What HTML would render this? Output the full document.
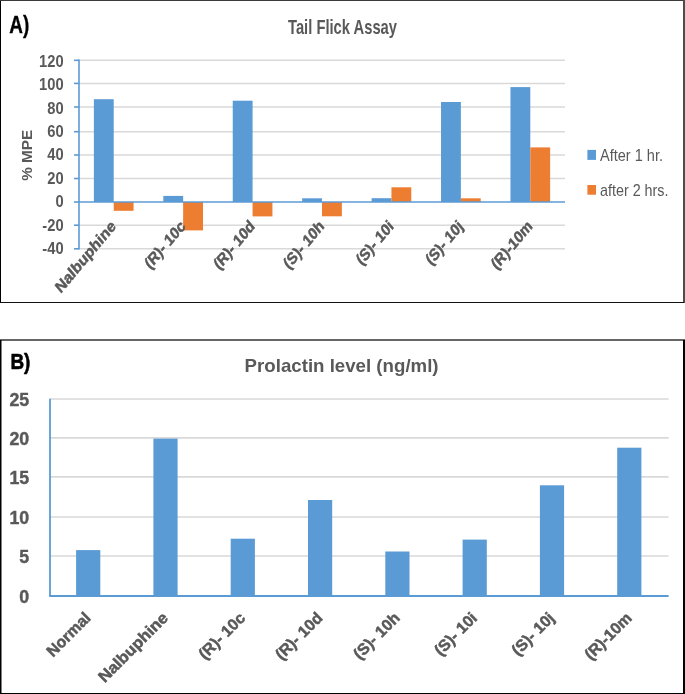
<!DOCTYPE html>
<html><head><meta charset="utf-8"><style>
html,body{margin:0;padding:0;background:#fff;}
svg{display:block;font-family:"Liberation Sans", sans-serif;will-change:transform;}
</style></head><body>
<svg width="685" height="694" viewBox="0 0 685 694">
<line x1="79" x2="565" y1="60.30" y2="60.30" stroke="#D9D9D9" stroke-width="1.5"/>
<line x1="79" x2="565" y1="83.40" y2="83.40" stroke="#D9D9D9" stroke-width="1.5"/>
<line x1="79" x2="565" y1="107.00" y2="107.00" stroke="#D9D9D9" stroke-width="1.5"/>
<line x1="79" x2="565" y1="131.70" y2="131.70" stroke="#D9D9D9" stroke-width="1.5"/>
<line x1="79" x2="565" y1="155.00" y2="155.00" stroke="#D9D9D9" stroke-width="1.5"/>
<line x1="79" x2="565" y1="178.50" y2="178.50" stroke="#D9D9D9" stroke-width="1.5"/>
<line x1="79" x2="565" y1="225.20" y2="225.20" stroke="#D9D9D9" stroke-width="1.5"/>
<line x1="79" x2="565" y1="248.80" y2="248.80" stroke="#D9D9D9" stroke-width="1.5"/>
<rect x="93.88" y="99.20" width="19.84" height="102.80" fill="#5B9BD5"/>
<rect x="113.72" y="202.00" width="19.84" height="8.80" fill="#ED7D31"/>
<rect x="163.31" y="195.90" width="19.84" height="6.10" fill="#5B9BD5"/>
<rect x="183.15" y="202.00" width="19.84" height="28.40" fill="#ED7D31"/>
<rect x="232.74" y="100.70" width="19.84" height="101.30" fill="#5B9BD5"/>
<rect x="252.58" y="202.00" width="19.84" height="14.40" fill="#ED7D31"/>
<rect x="302.17" y="198.30" width="19.84" height="3.70" fill="#5B9BD5"/>
<rect x="322.01" y="202.00" width="19.84" height="14.30" fill="#ED7D31"/>
<rect x="371.60" y="198.20" width="19.84" height="3.80" fill="#5B9BD5"/>
<rect x="391.44" y="187.30" width="19.84" height="14.70" fill="#ED7D31"/>
<rect x="441.03" y="102.00" width="19.84" height="100.00" fill="#5B9BD5"/>
<rect x="460.87" y="198.30" width="19.84" height="3.70" fill="#ED7D31"/>
<rect x="510.46" y="87.10" width="19.84" height="114.90" fill="#5B9BD5"/>
<rect x="530.30" y="147.40" width="19.84" height="54.60" fill="#ED7D31"/>
<line x1="79" x2="565" y1="202.00" y2="202.00" stroke="#5B9BD5" stroke-width="1.6"/>
<line x1="79" x2="79" y1="59.60" y2="249.50" stroke="#5B9BD5" stroke-width="1.6"/>
<line x1="74" x2="79" y1="60.30" y2="60.30" stroke="#5B9BD5" stroke-width="1.6"/>
<line x1="74" x2="79" y1="83.40" y2="83.40" stroke="#5B9BD5" stroke-width="1.6"/>
<line x1="74" x2="79" y1="107.00" y2="107.00" stroke="#5B9BD5" stroke-width="1.6"/>
<line x1="74" x2="79" y1="131.70" y2="131.70" stroke="#5B9BD5" stroke-width="1.6"/>
<line x1="74" x2="79" y1="155.00" y2="155.00" stroke="#5B9BD5" stroke-width="1.6"/>
<line x1="74" x2="79" y1="178.50" y2="178.50" stroke="#5B9BD5" stroke-width="1.6"/>
<line x1="74" x2="79" y1="202.00" y2="202.00" stroke="#5B9BD5" stroke-width="1.6"/>
<line x1="74" x2="79" y1="225.20" y2="225.20" stroke="#5B9BD5" stroke-width="1.6"/>
<line x1="74" x2="79" y1="248.80" y2="248.80" stroke="#5B9BD5" stroke-width="1.6"/>
<text x="0" y="0" font-size="16.5" fill="#595959" font-weight="bold" text-anchor="end" textLength="94.32" lengthAdjust="spacingAndGlyphs" transform="translate(116.72,227.20) scale(0.84,1) rotate(-45)" stroke="#595959" stroke-width="0.5" stroke-linejoin="round">Nalbuphine</text>
<text x="0" y="0" font-size="16.5" fill="#595959" font-weight="bold" text-anchor="end" transform="translate(186.15,227.20) scale(0.84,1) rotate(-45)" stroke="#595959" stroke-width="0.5" stroke-linejoin="round">(R)- 10c</text>
<text x="0" y="0" font-size="16.5" fill="#595959" font-weight="bold" text-anchor="end" transform="translate(255.58,227.20) scale(0.84,1) rotate(-45)" stroke="#595959" stroke-width="0.5" stroke-linejoin="round">(R)- 10d</text>
<text x="0" y="0" font-size="16.5" fill="#595959" font-weight="bold" text-anchor="end" transform="translate(325.00,227.20) scale(0.84,1) rotate(-45)" stroke="#595959" stroke-width="0.5" stroke-linejoin="round">(S)- 10h</text>
<text x="0" y="0" font-size="16.5" fill="#595959" font-weight="bold" text-anchor="end" transform="translate(394.44,227.20) scale(0.84,1) rotate(-45)" stroke="#595959" stroke-width="0.5" stroke-linejoin="round">(S)- 10i</text>
<text x="0" y="0" font-size="16.5" fill="#595959" font-weight="bold" text-anchor="end" transform="translate(463.87,227.20) scale(0.84,1) rotate(-45)" stroke="#595959" stroke-width="0.5" stroke-linejoin="round">(S)- 10j</text>
<text x="0" y="0" font-size="16.5" fill="#595959" font-weight="bold" text-anchor="end" transform="translate(533.30,227.20) scale(0.84,1) rotate(-45)" stroke="#595959" stroke-width="0.5" stroke-linejoin="round">(R)-10m</text>
<text x="0" y="0" font-size="16" fill="#595959" font-weight="bold" text-anchor="end" transform="translate(63.6,67.05) scale(0.92,1)">120</text>
<text x="0" y="0" font-size="16" fill="#595959" font-weight="bold" text-anchor="end" transform="translate(63.6,90.41) scale(0.92,1)">100</text>
<text x="0" y="0" font-size="16" fill="#595959" font-weight="bold" text-anchor="end" transform="translate(63.6,113.77) scale(0.92,1)">80</text>
<text x="0" y="0" font-size="16" fill="#595959" font-weight="bold" text-anchor="end" transform="translate(63.6,137.13) scale(0.92,1)">60</text>
<text x="0" y="0" font-size="16" fill="#595959" font-weight="bold" text-anchor="end" transform="translate(63.6,160.49) scale(0.92,1)">40</text>
<text x="0" y="0" font-size="16" fill="#595959" font-weight="bold" text-anchor="end" transform="translate(63.6,183.85) scale(0.92,1)">20</text>
<text x="0" y="0" font-size="16" fill="#595959" font-weight="bold" text-anchor="end" transform="translate(63.6,207.21) scale(0.92,1)">0</text>
<text x="0" y="0" font-size="16" fill="#595959" font-weight="bold" text-anchor="end" transform="translate(63.6,230.57) scale(0.92,1)">-20</text>
<text x="0" y="0" font-size="16" fill="#595959" font-weight="bold" text-anchor="end" transform="translate(63.6,253.93) scale(0.92,1)">-40</text>
<text x="0" y="0" font-size="14.5" fill="#595959" font-weight="bold" text-anchor="middle" textLength="51" lengthAdjust="spacingAndGlyphs" transform="translate(32,155.3) rotate(-90)">% MPE</text>
<text x="288" y="33.5" font-size="19.7" fill="#595959" font-weight="bold" text-anchor="start" textLength="109" lengthAdjust="spacingAndGlyphs" >Tail Flick Assay</text>
<text x="9.3" y="32.6" font-size="24.6" fill="#000" font-weight="bold" text-anchor="start" textLength="20" lengthAdjust="spacingAndGlyphs"  stroke="#000" stroke-width="0.35" stroke-linejoin="round">A)</text>
<rect x="587.4" y="149.9" width="8.6" height="10" fill="#5B9BD5"/>
<rect x="587.4" y="185" width="8.6" height="9.7" fill="#ED7D31"/>
<text x="600" y="160.9" font-size="17" fill="#595959" font-weight="normal" text-anchor="start" textLength="63" lengthAdjust="spacingAndGlyphs" >After 1 hr.</text>
<text x="600" y="195.8" font-size="17" fill="#595959" font-weight="normal" text-anchor="start" textLength="68.5" lengthAdjust="spacingAndGlyphs" >after 2 hrs.</text>
<line x1="50" x2="668.6" y1="556.00" y2="556.00" stroke="#D9D9D9" stroke-width="1.6"/>
<line x1="50" x2="668.6" y1="517.00" y2="517.00" stroke="#D9D9D9" stroke-width="1.6"/>
<line x1="50" x2="668.6" y1="476.90" y2="476.90" stroke="#D9D9D9" stroke-width="1.6"/>
<line x1="50" x2="668.6" y1="437.90" y2="437.90" stroke="#D9D9D9" stroke-width="1.6"/>
<line x1="50" x2="668.6" y1="399.00" y2="399.00" stroke="#D9D9D9" stroke-width="1.6"/>
<rect x="76.10" y="550.10" width="24.2" height="45.90" fill="#5B9BD5"/>
<rect x="153.40" y="438.60" width="24.2" height="157.40" fill="#5B9BD5"/>
<rect x="230.70" y="538.70" width="24.2" height="57.30" fill="#5B9BD5"/>
<rect x="308.00" y="500.00" width="24.2" height="96.00" fill="#5B9BD5"/>
<rect x="385.30" y="551.50" width="24.2" height="44.50" fill="#5B9BD5"/>
<rect x="462.60" y="539.60" width="24.2" height="56.40" fill="#5B9BD5"/>
<rect x="539.90" y="485.30" width="24.2" height="110.70" fill="#5B9BD5"/>
<rect x="617.20" y="447.70" width="24.2" height="148.30" fill="#5B9BD5"/>
<line x1="49.2" x2="668.6" y1="596" y2="596" stroke="#5B9BD5" stroke-width="1.8"/>
<line x1="50" x2="50" y1="398.7" y2="596" stroke="#5B9BD5" stroke-width="1.8"/>
<text x="0" y="0" font-size="15.9" fill="#595959" font-weight="bold" text-anchor="end" transform="translate(91.65,619.00) rotate(-45)" stroke="#595959" stroke-width="0.5" stroke-linejoin="round">Normal</text>
<text x="0" y="0" font-size="15.9" fill="#595959" font-weight="bold" text-anchor="end" textLength="90.89" lengthAdjust="spacingAndGlyphs" transform="translate(168.95,619.00) rotate(-45)" stroke="#595959" stroke-width="0.5" stroke-linejoin="round">Nalbuphine</text>
<text x="0" y="0" font-size="15.9" fill="#595959" font-weight="bold" text-anchor="end" transform="translate(246.25,619.00) rotate(-45)" stroke="#595959" stroke-width="0.5" stroke-linejoin="round">(R)- 10c</text>
<text x="0" y="0" font-size="15.9" fill="#595959" font-weight="bold" text-anchor="end" transform="translate(323.55,619.00) rotate(-45)" stroke="#595959" stroke-width="0.5" stroke-linejoin="round">(R)- 10d</text>
<text x="0" y="0" font-size="15.9" fill="#595959" font-weight="bold" text-anchor="end" transform="translate(400.85,619.00) rotate(-45)" stroke="#595959" stroke-width="0.5" stroke-linejoin="round">(S)- 10h</text>
<text x="0" y="0" font-size="15.9" fill="#595959" font-weight="bold" text-anchor="end" transform="translate(478.15,619.00) rotate(-45)" stroke="#595959" stroke-width="0.5" stroke-linejoin="round">(S)- 10i</text>
<text x="0" y="0" font-size="15.9" fill="#595959" font-weight="bold" text-anchor="end" transform="translate(555.45,619.00) rotate(-45)" stroke="#595959" stroke-width="0.5" stroke-linejoin="round">(S)- 10j</text>
<text x="0" y="0" font-size="15.9" fill="#595959" font-weight="bold" text-anchor="end" transform="translate(632.75,619.00) rotate(-45)" stroke="#595959" stroke-width="0.5" stroke-linejoin="round">(R)-10m</text>
<text x="29.2" y="602.90" font-size="17.8" fill="#595959" font-weight="bold" text-anchor="end"  stroke="#595959" stroke-width="0.4" stroke-linejoin="round">0</text>
<text x="29.2" y="562.90" font-size="17.8" fill="#595959" font-weight="bold" text-anchor="end"  stroke="#595959" stroke-width="0.4" stroke-linejoin="round">5</text>
<text x="29.2" y="523.90" font-size="17.8" fill="#595959" font-weight="bold" text-anchor="end"  stroke="#595959" stroke-width="0.4" stroke-linejoin="round">10</text>
<text x="29.2" y="483.80" font-size="17.8" fill="#595959" font-weight="bold" text-anchor="end"  stroke="#595959" stroke-width="0.4" stroke-linejoin="round">15</text>
<text x="29.2" y="444.80" font-size="17.8" fill="#595959" font-weight="bold" text-anchor="end"  stroke="#595959" stroke-width="0.4" stroke-linejoin="round">20</text>
<text x="29.2" y="405.90" font-size="17.8" fill="#595959" font-weight="bold" text-anchor="end"  stroke="#595959" stroke-width="0.4" stroke-linejoin="round">25</text>
<text x="244.6" y="371.8" font-size="17.8" fill="#595959" font-weight="bold" text-anchor="start" textLength="194" lengthAdjust="spacingAndGlyphs" >Prolactin level (ng/ml)</text>
<text x="10.4" y="368.8" font-size="22.8" fill="#000" font-weight="bold" text-anchor="start" textLength="20" lengthAdjust="spacingAndGlyphs"  stroke="#000" stroke-width="0.6" stroke-linejoin="round">B)</text>
<rect x="0" y="0" width="1" height="303" fill="#000"/>
<rect x="0" y="0" width="685" height="1" fill="#3a3a3a"/>
<rect x="683" y="0" width="2" height="303" fill="#4d4d4d"/>
<rect x="0" y="302" width="684" height="1" fill="#111"/>
<rect x="0" y="339" width="685" height="2" fill="#666"/>
<rect x="0" y="340" width="1.5" height="354" fill="#000"/>
<rect x="683" y="340" width="2" height="354" fill="#000"/>
<rect x="0" y="693" width="685" height="1" fill="#000"/>
</svg>
</body></html>
